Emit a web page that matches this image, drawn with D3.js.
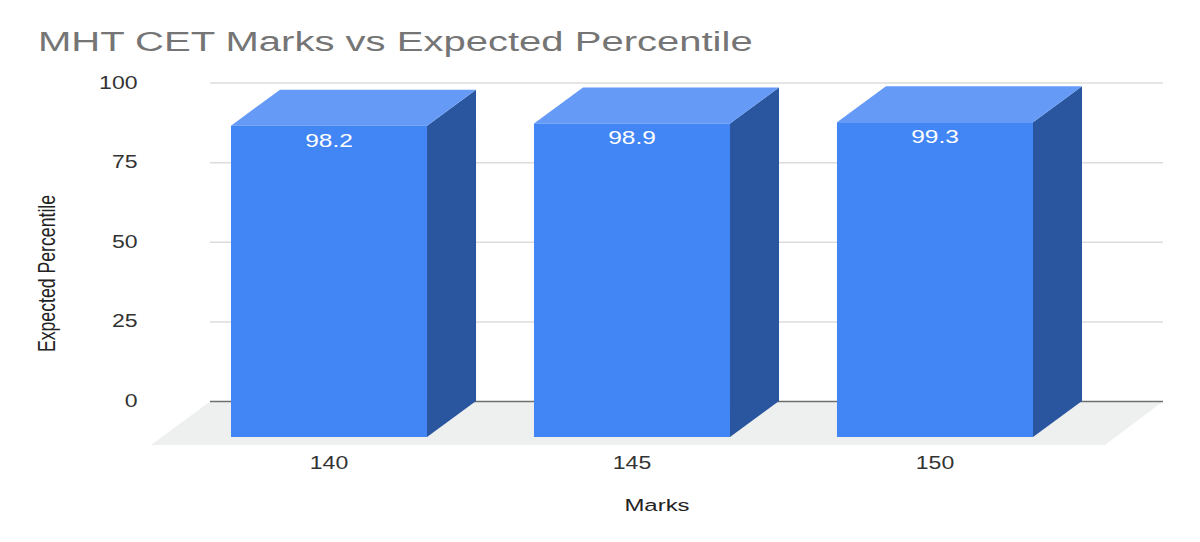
<!DOCTYPE html>
<html>
<head>
<meta charset="utf-8">
<script src="https://cdn.jsdelivr.net/npm/d3@7"></script>
<style>
  html, body { margin: 0; padding: 0; background: #fff; }
  svg { display: block; }
  text { font-family: "Liberation Sans", Arial, sans-serif; }
</style>
</head>
<body>
<svg id="chart" width="1200" height="542"></svg>
<script>
const categories = ["140", "145", "150"];
const percentiles = [98.2, 98.9, 99.3];
const yTicks = [0, 25, 50, 75, 100];
const chartTitle = "MHT CET Marks vs Expected Percentile";
const xTitle = "Marks";
const yTitle = "Expected Percentile";

const svg = d3.select("#chart");

// Back wall of the pseudo-3D plot; the front plane sits down and to the left of it.
const plot = { left: 210, right: 1163, zero: 401.5, top: 83 };
const depth = { dx: 49, dy: 36 };
const floorFront = 445;

const y = d3.scaleLinear().domain([0, 100]).range([plot.zero, plot.top]);
const barHeight = d3.scaleLinear().domain([0, 100]).range([0, 317]);
const x = d3.scaleBand().domain(categories).range([170.4, 1093.6]).paddingInner(0.353).paddingOuter(0.2);

// Places text with separate horizontal and vertical glyph scaling.
function stretched(sel, px, py, sx, sy, rotate) {
  sel.attr("transform", `translate(${px},${py})${rotate ? ` rotate(${rotate})` : ""} scale(${sx},${sy})`);
  return sel;
}

// Floor
svg.append("path")
  .attr("d", d3.line()([[plot.left, plot.zero], [plot.right, plot.zero], [1105, floorFront], [151, floorFront]]) + "Z")
  .attr("fill", "#eeefef");

// Gridlines
svg.append("g").selectAll("line")
  .data(yTicks.filter(d => d !== 0))
  .join("line")
  .attr("x1", plot.left).attr("x2", plot.right)
  .attr("y1", d => y(d)).attr("y2", d => y(d))
  .attr("stroke", "#dcdcdc").attr("stroke-width", 1.5);

// Baseline
svg.append("line")
  .attr("x1", plot.left).attr("x2", plot.right)
  .attr("y1", y(0)).attr("y2", y(0))
  .attr("stroke", "#6f6f6f").attr("stroke-width", 1.5);

// Tick labels on the value axis
svg.append("g").selectAll("text")
  .data(yTicks)
  .join("text")
  .attr("text-anchor", "end")
  .attr("font-size", 18)
  .attr("fill", "#333")
  .text(d => d)
  .each(function (d) { stretched(d3.select(this), 137.5, y(d) + 5.5, 1.28, 1); });

// Extruded bars
const frontBottom = plot.zero + depth.dy - 0.5;
const bars = svg.append("g").selectAll("g")
  .data(categories.map((c, i) => ({ c, v: percentiles[i] })))
  .join("g");

bars.append("path")
  .attr("fill", "#2a559f")
  .attr("d", d => {
    const r = x(d.c) + x.bandwidth(), t = frontBottom - barHeight(d.v);
    return d3.line()([[r, t], [r + depth.dx, t - depth.dy], [r + depth.dx, frontBottom - depth.dy], [r, frontBottom]]) + "Z";
  });

bars.append("path")
  .attr("fill", "#659bf7")
  .attr("d", d => {
    const l = x(d.c), r = l + x.bandwidth(), t = frontBottom - barHeight(d.v);
    return d3.line()([[l, t], [l + depth.dx, t - depth.dy], [r + depth.dx, t - depth.dy], [r, t]]) + "Z";
  });

bars.append("rect")
  .attr("fill", "#4285f4")
  .attr("x", d => x(d.c))
  .attr("width", x.bandwidth())
  .attr("y", d => frontBottom - barHeight(d.v))
  .attr("height", d => barHeight(d.v));

// Value labels inside the front faces
bars.append("text")
  .attr("text-anchor", "middle")
  .attr("font-size", 18)
  .attr("fill", "#ffffff")
  .text(d => d.v)
  .each(function (d) {
    stretched(d3.select(this), x(d.c) + x.bandwidth() / 2, frontBottom - barHeight(d.v) + 21, 1.36, 1);
  });

// Category labels
bars.append("text")
  .attr("text-anchor", "middle")
  .attr("font-size", 18)
  .attr("fill", "#333")
  .text(d => d.c)
  .each(function (d) { stretched(d3.select(this), x(d.c) + x.bandwidth() / 2, 468.5, 1.28, 1); });

// Titles
stretched(svg.append("text").attr("font-size", 28).attr("fill", "#757575").text(chartTitle), 38, 51, 1.43, 1);
stretched(svg.append("text").attr("text-anchor", "middle").attr("font-size", 17).attr("fill", "#222").text(xTitle), 657, 511, 1.41, 1);
stretched(svg.append("text").attr("text-anchor", "middle").attr("font-size", 17).attr("fill", "#222").text(yTitle), 55, 273.5, 1.04, 1.38, -90);
</script>
</body>
</html>
